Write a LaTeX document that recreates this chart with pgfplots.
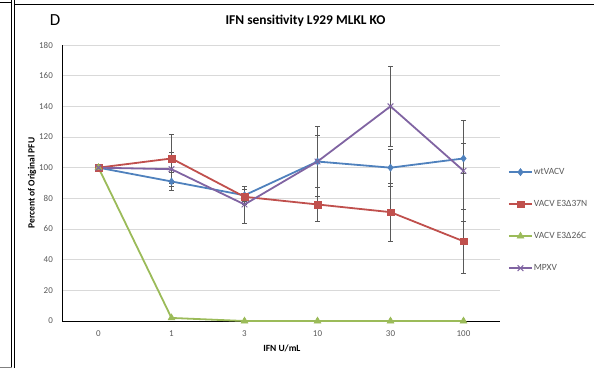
\documentclass[border=0pt]{standalone}
\usepackage{fontspec}
\setmainfont{Carlito}
\usepackage{pgfplots}
\pgfplotsset{compat=1.18}
\definecolor{cblue}{HTML}{4F81BD}
\definecolor{cred}{HTML}{C0504D}
\definecolor{cgreen}{HTML}{9BBB59}
\definecolor{cpurple}{HTML}{8064A2}
\definecolor{ctext}{HTML}{595959}
\definecolor{cgrid}{HTML}{D9D9D9}
\definecolor{cerr}{HTML}{595959}
\begin{document}
\begin{tikzpicture}[x=1bp,y=1bp]
\useasboundingbox (0,0) rectangle (594,368);
\draw[line width=1bp] (11.7,0) -- (11.7,368);
\draw[line width=1bp] (14.7,0) -- (14.7,368);
\draw[line width=1bp] (0,365) -- (12,365);
\draw[line width=1.2bp] (14.7,363.3) -- (594,363.3);
\draw[gray, line width=1bp] (0,1) -- (11.7,1);
\node[font=\fontsize{17}{19}\selectfont] at (55,348) {D};
\begin{axis}[
  at={(62bp,47bp)}, anchor=south west,
  width=438bp, height=276bp, scale only axis,
  xmin=-0.5, xmax=5.5, ymin=0, ymax=180,
  xtick={0,...,5}, xticklabels={0,1,3,10,30,100},
  ytick={0,20,...,180},
  axis x line*=bottom, axis y line*=left,
  axis line style={-, black, line width=0.9bp},
  major tick length=0pt,
  ymajorgrids, grid style={draw=cgrid, line width=0.9bp},
  /pgf/number format/assume math mode=true,
  tick label style={font=\fontsize{9}{10}\selectfont, text=ctext},
  xticklabel style={anchor=center, inner sep=0pt, yshift=-13bp},
  yticklabel style={anchor=east, inner sep=0pt, xshift=-9bp},
  title={IFN sensitivity L929 MLKL KO},
  title style={at={(axis description cs:0.556,1.065)}, anchor=center, font=\bfseries\fontsize{13.5}{15}\selectfont},
  xlabel={IFN U/mL},
  every axis x label/.style={at={(axis description cs:0.502,-0.098)}, anchor=center, font=\bfseries\fontsize{9.5}{11}\selectfont},
  ylabel={Percent of Original PFU},
  every axis y label/.style={at={(axis description cs:-0.0685,0.5)}, rotate=90, anchor=center, font=\bfseries\fontsize{9.5}{11}\selectfont},
  legend style={at={(axis description cs:1.018,0.598)}, anchor=north west, draw=none, fill=none, inner sep=0pt,
    row sep=0pt, font=\fontsize{9.5}{11}\selectfont, text=ctext,
    nodes={inner sep=1bp, minimum height=32bp}},
  legend cell align=left,
  legend image code/.code={\draw[mark repeat=2,mark phase=2] plot coordinates {(0bp,0bp) (11.5bp,0bp) (23bp,0bp)};},
  every axis plot/.append style={line width=1.8bp},
  error bars/error bar style={draw=cerr, line width=0.7bp},
  error bars/error mark options={draw=cerr, rotate=90, mark size=2.2bp, line width=0.7bp},
]
\addplot[color=cblue, mark=diamond*, mark size=3.6bp, mark options={fill=cblue, line width=0.5bp},
  error bars/.cd, y dir=both, y explicit]
  coordinates {(0,100) +- (0,0) (1,91) +- (0,6) (2,82) +- (0,4) (3,104) +- (0,17) (4,100) +- (0,12) (5,106) +- (0,10)};
\addlegendentry{wtVACV}
\addplot[color=cred, mark=square*, mark size=3.3bp, mark options={fill=cred, line width=0.5bp},
  error bars/.cd, y dir=both, y explicit]
  coordinates {(0,100) +- (0,0) (1,106) +- (0,16) (2,81) +- (0,5) (3,76) +- (0,11) (4,71) +- (0,19) (5,52) +- (0,21)};
\addlegendentry{VACV E3Δ37N}
\addplot[color=cgreen, mark=triangle*, mark size=4bp, mark options={fill=cgreen, line width=0.5bp}]
  coordinates {(0,100) (1,2) (2,0) (3,0) (4,0) (5,0)};
\addlegendentry{VACV E3Δ26C}
\addplot[color=cpurple, mark=x, mark size=4bp, mark options={line width=1bp},
  error bars/.cd, y dir=both, y explicit]
  coordinates {(0,100) +- (0,0) (1,99) +- (0,11) (2,76) +- (0,12) (3,104) +- (0,23) (4,140) +- (0,26) (5,98) +- (0,33)};
\addlegendentry{MPXV}
\end{axis}
\end{tikzpicture}
\end{document}
